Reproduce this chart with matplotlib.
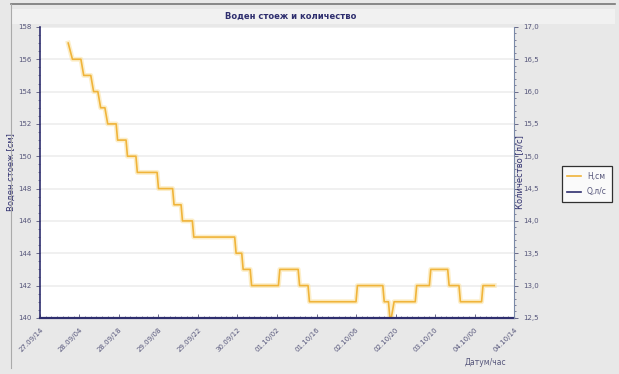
import numpy as np
import matplotlib
matplotlib.use("Agg")
import matplotlib.pyplot as plt
from matplotlib.lines import Line2D
from matplotlib.ticker import MultipleLocator, FuncFormatter

# hours since 27.09 00:00 ... tick labels every 14 h
tick_labels = ['27.09/14', '28.09/04', '28.09/18', '29.09/08', '29.09/22',
               '30.09/12', '01.10/02', '01.10/16', '02.10/06', '02.10/20',
               '03.10/10', '04.10/00', '04.10/14']

# plateaus of the water level: start hour, end hour, level (cm), hours from 27.09/14
plat_start = [10, 11.5, 15.5, 19, 21.5, 24, 27.5, 31, 34.5, 42, 47.5, 50.5, 54.5,
              69.5, 72, 75, 85, 92, 95.5, 112.5, 122, 124, 125.5, 133.5, 138.5, 145, 149, 157]
plat_end = [10, 14.5, 18, 20.5, 23, 27, 30.5, 34, 41.5, 47, 50, 54, 69,
            71.5, 74.5, 84.5, 91.5, 95, 112, 121.5, 123.5, 124.5, 133, 138, 144.5, 148.5, 156.5, 161]
level = [157, 156, 155, 154, 153, 152, 151, 150, 149, 148, 147, 146, 145,
         144, 143, 142, 143, 142, 141, 142, 141, 140, 141, 142, 143, 142, 141, 142]

q_hours = []
q_values = []

navy = '#2e2e6e'
txt = '#55557a'
orange = '#f0b43a'

t = []
h = []
for a, b, v in zip(plat_start, plat_end, level):
    t += [a, b]
    h += [v, v]

fig = plt.figure(figsize=(6.19, 3.74), dpi=100, facecolor='#e8e8e8')
ax = fig.add_axes([0.0646, 0.150, 0.7658, 0.778])
ax.set_facecolor('white')

ax.plot(t, h, color='#fbe3a6', lw=3.5, alpha=0.6, solid_joinstyle='round')
ax.plot(t, h, color=orange, lw=1.2, label='Н,см')

ax.set_xlim(0, 168)
ax.set_ylim(140, 158)
ax.set_xticks(np.arange(0, 169, 14))
ax.set_xticklabels(tick_labels, rotation=45, ha='right', rotation_mode='anchor')
ax.xaxis.set_minor_locator(MultipleLocator(2))
ax.yaxis.set_major_locator(MultipleLocator(2))
ax.yaxis.set_minor_locator(MultipleLocator(0.5))
ax.grid(axis='y', color='#eeeeee', lw=1.2)
ax.set_axisbelow(True)

for s in ['top', 'right']:
    ax.spines[s].set_visible(False)
ax.spines['left'].set_color(navy)
ax.spines['bottom'].set_color(navy)
ax.spines['left'].set_linewidth(1.2)
ax.spines['bottom'].set_linewidth(1.6)
ax.tick_params(axis='both', which='major', labelsize=5, colors=txt, length=3, width=0.6)
ax.tick_params(axis='both', which='minor', length=1.5, width=0.5, colors=txt)
ax.tick_params(axis='x', which='both', direction='in', pad=6)
ax.tick_params(axis='y', which='both', direction='out', pad=3)
ax.set_ylabel('Воден стоеж [см]', fontsize=6, color=navy, labelpad=2)

ax2 = ax.twinx()
ax2.plot(q_hours, q_values, color=navy, lw=1.2, label='Q,л/с')
ax2.set_ylim(12.5, 17.0)
ax2.yaxis.set_major_locator(MultipleLocator(0.5))
ax2.yaxis.set_minor_locator(MultipleLocator(0.1))
ax2.yaxis.set_major_formatter(FuncFormatter(lambda v, p: f'{v:.1f}'.replace('.', ',')))
for s in ['top', 'left', 'bottom']:
    ax2.spines[s].set_visible(False)
ax2.spines['right'].set_color('#7a8aa8')
ax2.tick_params(axis='y', which='major', labelsize=5, colors=txt, length=3, width=0.6)
ax2.tick_params(axis='y', which='minor', length=1.5, width=0.5, colors=txt)
ax2.set_ylabel('Количество [л/с]', fontsize=6, color=navy, labelpad=-17)

fig.text(0.785, 0.025, 'Датум/час', fontsize=5.5, color=txt, ha='center')

# title band
fig.patches.append(plt.Rectangle((0.018, 0.935), 0.975, 0.04, transform=fig.transFigure,
                                 facecolor='#f1f1f1', edgecolor='none'))
fig.lines.append(Line2D([0.018, 0.993], [0.988, 0.988], transform=fig.transFigure,
                        color='#777777', lw=1.2))
fig.lines.append(Line2D([0.018, 0.018], [0.015, 0.988], transform=fig.transFigure,
                        color='#aaaaaa', lw=0.8))
fig.text(0.47, 0.955, 'Воден стоеж и количество', fontsize=6, color=navy,
         ha='center', va='center', fontweight='bold')

handles = [Line2D([], [], color=orange, lw=1.2), Line2D([], [], color=navy, lw=1.2)]
leg = fig.legend(handles, ['Н,см', 'Q,л/с'], loc='center', bbox_to_anchor=(0.948, 0.508),
                 fontsize=5.5, frameon=True, fancybox=False, handlelength=1.8,
                 borderpad=0.7, labelspacing=0.9, handletextpad=0.8)
leg.get_frame().set_edgecolor('black')
leg.get_frame().set_linewidth(0.9)
for tx in leg.get_texts():
    tx.set_color(txt)

fig.savefig('out.png', dpi=100, facecolor=fig.get_facecolor())
